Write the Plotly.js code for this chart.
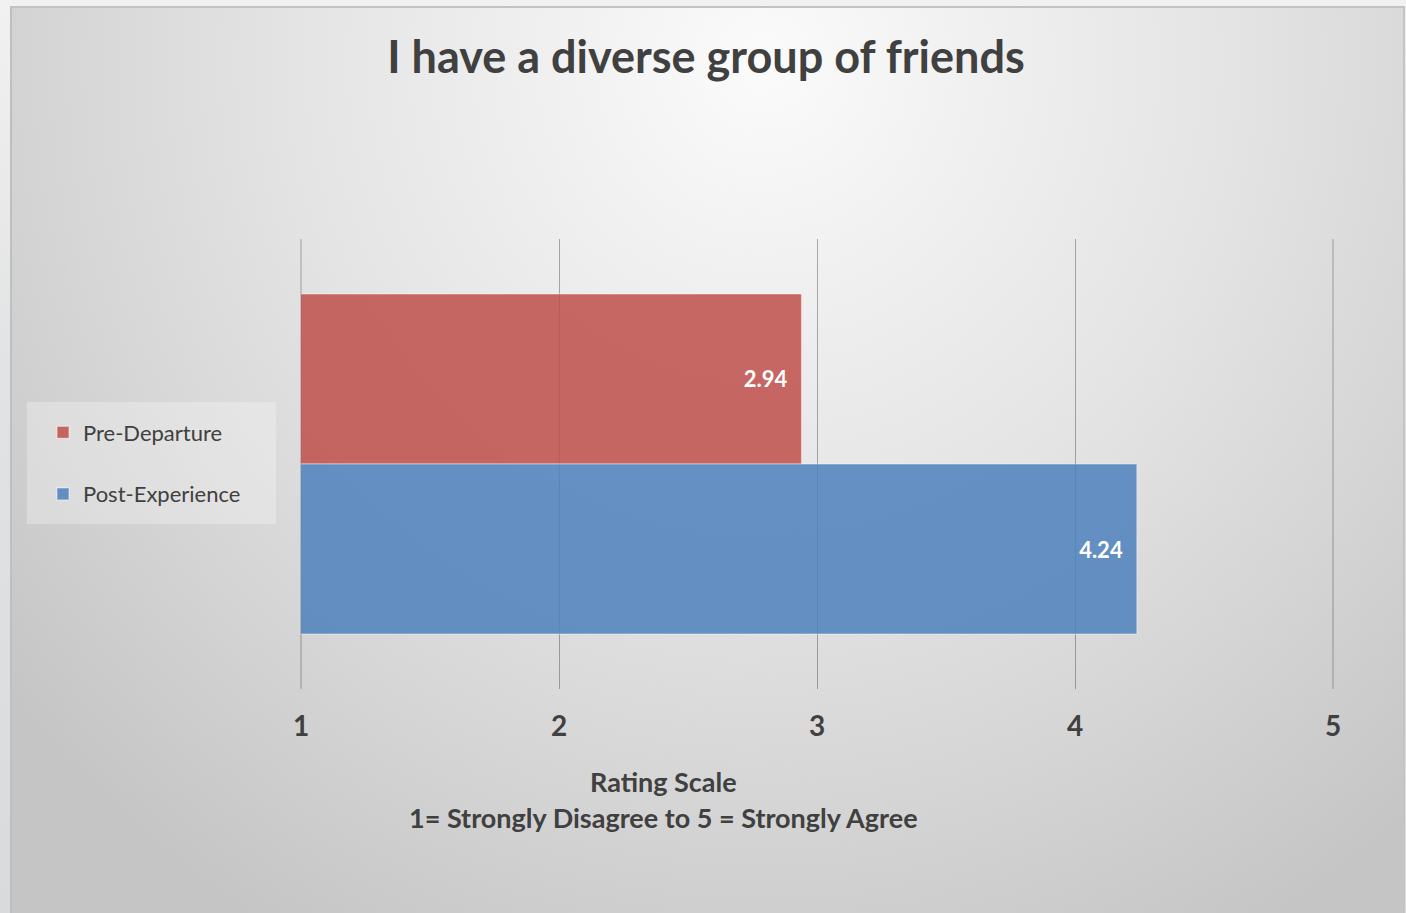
<!DOCTYPE html>
<html>
<head>
<meta charset="utf-8">
<script src="https://cdn.plot.ly/plotly-3.0.1.min.js"></script>
<style>
  html, body { margin: 0; padding: 0; width: 1406px; height: 913px; overflow: hidden;
    background: linear-gradient(to bottom, #f1f1f1 0%, #e2e3e4 40%, #d9dadc 100%); }
  #frame { position: absolute; left: 10px; top: 6px; width: 1391px; height: 915px;
    border-left: 2px solid #bfbfbf; border-top: 2px solid #c2c2c2; border-right: 2px solid #c4c4c4;
    background: radial-gradient(ellipse 70% 110% at 54% 6%, #fbfbfb 0%, #f1f1f1 20%, #e4e4e4 48%, #d5d5d5 74%, #c5c5c5 100%); }
  #chart { position: absolute; left: 0; top: 0; width: 1406px; height: 913px; }
</style>
</head>
<body>
<div id="frame"></div>
<div id="chart"></div>
<script>
const chartTitle = "I have a diverse group of friends";
const category = ["I have a diverse group of friends"];
const seriesNames = ["Pre-Departure", "Post-Experience"];
const preDeparture = [2.94];
const postExperience = [4.24];
const seriesColors = ["rgba(192,80,77,0.86)", "rgba(79,129,189,0.86)"];
const tickValues = [1, 2, 3, 4, 5];
const axisTitleLines = ["Rating Scale", "1= Strongly Disagree to 5 = Strongly Agree"];

const FONT = 'Lato, "Open Sans", sans-serif';
const TXT = '#404040';
const GRID = 'rgba(0,0,0,0.3)';

const seriesValues = [preDeparture, postExperience];
const traces = seriesNames.map((name, i) => ({
  type: 'bar',
  orientation: 'h',
  name: name,
  x: seriesValues[i],
  y: category,
  base: 0,
  legendgroup: 'g' + i,
  marker: { color: seriesColors[i], line: { color: 'rgba(255,255,255,0.45)', width: 1.2 } },
  texttemplate: '<b>%{x:.2f}</b>\u00a0\u00a0',
  textposition: 'inside',
  insidetextanchor: 'end',
  textangle: 0,
  constraintext: 'none',
  textfont: { family: FONT, size: 22, color: '#ffffff' },
  hoverinfo: 'x+name'
}));

// gridlines at the two range ends (Plotly drops grid lines that sit on the plot edges)
const edgeGrid = [0, 1].map(px => ({
  type: 'line', xref: 'paper', yref: 'paper', layer: 'below',
  x0: px, x1: px, y0: 0, y1: 1,
  line: { color: GRID, width: 1 }
}));

const layout = {
  width: 1406, height: 913,
  paper_bgcolor: 'rgba(0,0,0,0)',
  plot_bgcolor: 'rgba(0,0,0,0)',
  margin: { l: 301, r: 73, t: 239, b: 224, pad: 0 },
  font: { family: FONT, color: TXT },
  title: { text: '<b>' + chartTitle + '</b>', font: { family: FONT, size: 45, color: TXT },
           x: 706 / 1406, xanchor: 'center', y: 1 - 57 / 913, yanchor: 'middle' },
  barmode: 'group',
  bargap: 0.2444,
  bargroupgap: 0,
  xaxis: {
    range: [tickValues[0], tickValues[tickValues.length - 1]],
    tickvals: tickValues, ticktext: tickValues.map(String),
    showgrid: true, gridcolor: GRID, gridwidth: 1,
    showline: false, zeroline: false, ticks: '',
    tickfont: { family: FONT, size: 28, color: TXT, weight: 'bold' },
    ticklabelstandoff: 18,
    fixedrange: true
  },
  yaxis: {
    autorange: 'reversed', showticklabels: false, showgrid: false, zeroline: false,
    showline: false, ticks: '', fixedrange: true
  },
  showlegend: true,
  legend: {
    x: (43 - 301) / 1032, xanchor: 'left',
    y: (689 - 463.5) / 450, yanchor: 'middle',
    traceorder: 'grouped', tracegroupgap: 30,
    bgcolor: 'rgba(0,0,0,0)', borderwidth: 0,
    itemwidth: 30,
    font: { family: FONT, size: 22, color: TXT }
  },
  shapes: [{
    type: 'rect', xref: 'paper', yref: 'paper', layer: 'below',
    x0: (27 - 301) / 1032, x1: (276 - 301) / 1032,
    y0: (689 - 524) / 450, y1: (689 - 402) / 450,
    fillcolor: 'rgba(255,255,255,0.28)', line: { width: 0 }
  }].concat(edgeGrid),
  annotations: [
    { text: '<b>' + axisTitleLines[0] + '</b>', xref: 'paper', yref: 'paper',
      x: (663 - 301) / 1032, y: (689 - 781) / 450, xanchor: 'center', yanchor: 'middle',
      showarrow: false, font: { family: FONT, size: 27, color: TXT } },
    { text: '<b>' + axisTitleLines[1] + '</b>', xref: 'paper', yref: 'paper',
      x: (663 - 301) / 1032, y: (689 - 817) / 450, xanchor: 'center', yanchor: 'middle',
      showarrow: false, font: { family: FONT, size: 27, color: TXT } }
  ]
};

Plotly.newPlot('chart', traces, layout, { displayModeBar: false });
</script>
</body>
</html>
